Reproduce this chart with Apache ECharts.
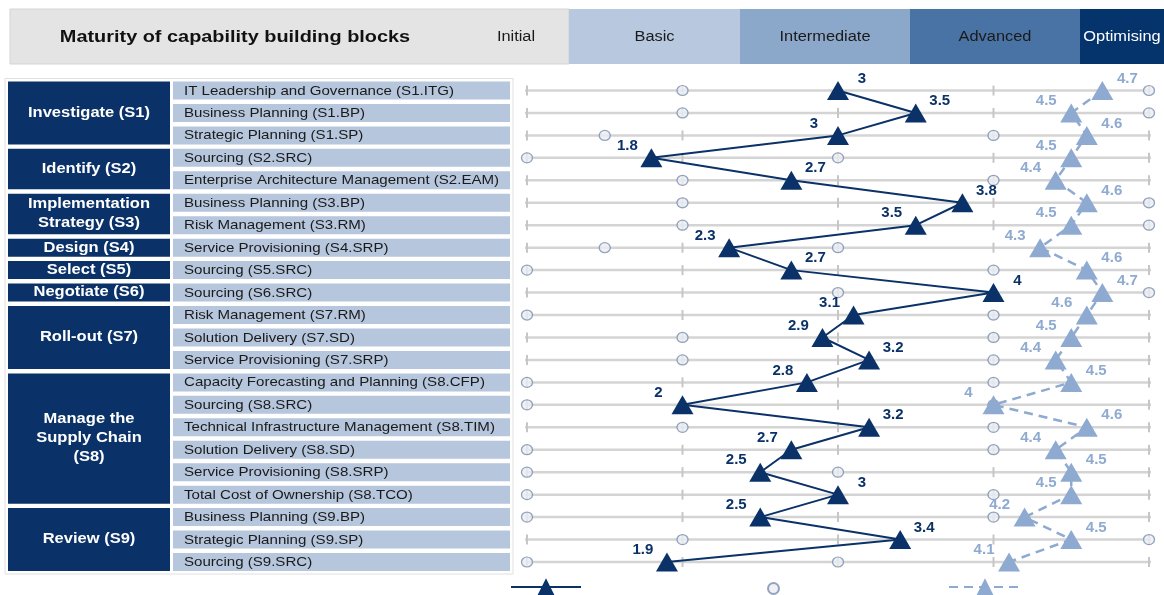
<!DOCTYPE html>
<html><head><meta charset="utf-8">
<script src="https://cdn.jsdelivr.net/npm/echarts@6/dist/echarts.min.js"></script>
<style>html,body{margin:0;padding:0;background:#fff}#c{width:1164px;height:595px}</style>
</head><body><div id="c"></div>
<script>
// ---------- data ----------
const levels = ['Initial', 'Basic', 'Intermediate', 'Advanced', 'Optimising'];
const groupNames = ['Investigate (S1)', 'Identify (S2)', 'Implementation\nStrategy (S3)', 'Design (S4)', 'Select (S5)', 'Negotiate (S6)', 'Roll-out (S7)', 'Manage the\nSupply Chain\n(S8)', 'Review (S9)'];
const groupSizes = [3, 2, 2, 1, 1, 1, 3, 6, 3];
const capabilities = [
  'IT Leadership and Governance (S1.ITG)',
  'Business Planning (S1.BP)',
  'Strategic Planning (S1.SP)',
  'Sourcing (S2.SRC)',
  'Enterprise Architecture Management (S2.EAM)',
  'Business Planning (S3.BP)',
  'Risk Management (S3.RM)',
  'Service Provisioning (S4.SRP)',
  'Sourcing (S5.SRC)',
  'Sourcing (S6.SRC)',
  'Risk Management (S7.RM)',
  'Solution Delivery (S7.SD)',
  'Service Provisioning (S7.SRP)',
  'Capacity Forecasting and Planning (S8.CFP)',
  'Sourcing (S8.SRC)',
  'Technical Infrastructure Management (S8.TIM)',
  'Solution Delivery (S8.SD)',
  'Service Provisioning (S8.SRP)',
  'Total Cost of Ownership (S8.TCO)',
  'Business Planning (S9.BP)',
  'Strategic Planning (S9.SP)',
  'Sourcing (S9.SRC)'
];
const currentMaturity = [3, 3.5, 3, 1.8, 2.7, 3.8, 3.5, 2.3, 2.7, 4, 3.1, 2.9, 3.2, 2.8, 2, 3.2, 2.7, 2.5, 3, 2.5, 3.4, 1.9];
const targetMaturity = [4.7, 4.5, 4.6, 4.5, 4.4, 4.6, 4.5, 4.3, 4.6, 4.7, 4.6, 4.5, 4.4, 4.5, 4, 4.6, 4.4, 4.5, 4.5, 4.2, 4.5, 4.1];
const rangeMin = [2, 2, 1.5, 1, 2, 2, 2, 1.5, 1, 3, 1, 2, 2, 1, 1, 2, 1, 1, 1, 1, 2, 1];
const rangeMax = [5, 5, 4, 3, 4, 5, 5, 3, 4, 5, 4, 4, 4, 4, 4, 4, 4, 3, 4, 4, 5, 3];
const scaleTicks = [1, 2, 3, 4, 5];
// label side (style): 1 = right, -1 = left
const currentLabelSide = [1, 1, -1, -1, 1, 1, -1, -1, 1, 1, -1, -1, 1, -1, -1, 1, -1, -1, 1, -1, 1, -1];
const targetLabelSide = [1, -1, 1, -1, -1, 1, -1, -1, 1, 1, -1, -1, -1, 1, -1, 1, -1, 1, -1, -1, 1, -1];

// ---------- styles ----------
const FONT = '"Liberation Sans", Arial, sans-serif';
const NAVY = '#0b3268';
const LIGHT = '#8eaad1';
const TOP = 90.5, H = 471.5;
const SX = 1.17; // horizontal text stretch

const groupStarts = [];
groupSizes.reduce((acc, n) => { groupStarts.push(acc); return acc + n; }, 0);

const chart = echarts.init(document.getElementById('c'));
const bandX = [569, 740, 910, 1080, 1164];
const bandColors = ['#b8c8de', '#8ba8ca', '#4a73a5', '#05336b'];
const bandText = ['#1a1a1a', '#1a1a1a', '#1a1a1a', '#ffffff'];
const graphics = [
  { type: 'rect', shape: { x: 5, y: 78.5, width: 508, height: 495.5 }, style: { fill: 'none', stroke: '#e0e0e0', lineWidth: 1 }, z: -1 },
  { type: 'rect', shape: { x: 10, y: 9, width: 559, height: 55 }, style: { fill: '#e4e4e4', stroke: '#d4d4d4', lineWidth: 1 } },
  { type: 'text', x: 235, y: 37, scaleX: SX, style: { text: 'Maturity of capability building blocks', font: 'bold 17px ' + FONT, fill: '#111', align: 'center', verticalAlign: 'middle' } },
  { type: 'text', x: 516, y: 37, scaleX: SX, style: { text: levels[0], font: '14px ' + FONT, fill: '#1a1a1a', align: 'center', verticalAlign: 'middle' } }
];
for (let k = 0; k < 4; k++) {
  graphics.push({ type: 'rect', shape: { x: bandX[k], y: 9, width: bandX[k + 1] - bandX[k], height: 55 }, style: { fill: bandColors[k] } });
  const cx = k === 3 ? 1122 : (bandX[k] + bandX[k + 1]) / 2;
  graphics.push({ type: 'text', x: cx, y: 37, scaleX: SX, style: { text: levels[k + 1], font: '14px ' + FONT, fill: bandText[k], align: 'center', verticalAlign: 'middle' } });
}

const option = {
  animation: false,
  grid: [
    { left: 8, top: TOP, width: 502, height: H },
    { left: 527, top: TOP, width: 622, height: H }
  ],
  xAxis: [
    { gridIndex: 0, type: 'value', min: 0, max: 502, show: false },
    { gridIndex: 1, type: 'value', min: 1, max: 5, interval: 1, show: false }
  ],
  yAxis: [
    { gridIndex: 0, type: 'category', data: capabilities, inverse: true, boundaryGap: false, show: false },
    { gridIndex: 1, type: 'category', data: capabilities, inverse: true, boundaryGap: false, show: false }
  ],
  legend: [
    { data: ['Current maturity'], left: 510, top: 576, padding: 0, itemWidth: 70, itemHeight: 22, formatter: () => '', selectedMode: false },
    { data: ['Range (min / max)'], left: 767, top: 582, padding: 0, itemWidth: 11, itemHeight: 11, formatter: () => '', selectedMode: false },
    { data: ['Target maturity'], left: 948, top: 576, padding: 0, itemWidth: 72, itemHeight: 22, formatter: () => '', selectedMode: false }
  ],
  graphic: graphics,
  series: [
    {
      type: 'custom', xAxisIndex: 0, yAxisIndex: 0, silent: true, clip: false,
      data: capabilities.map((c, i) => [165, i]),
      renderItem(params, api) {
        const i = api.value(1);
        const p0 = api.coord([165, i]);
        const p1 = api.coord([502, i]);
        const h = 18;
        return { type: 'group', children: [
          { type: 'rect', shape: { x: p0[0], y: p0[1] - h / 2, width: p1[0] - p0[0], height: h }, style: { fill: '#b6c6dc' } },
          { type: 'text', x: p0[0] + 11, y: p0[1] + 0.5, scaleX: 1.16, style: { text: capabilities[i], font: '13px ' + FONT, fill: '#1a1a1a', align: 'left', verticalAlign: 'middle' } }
        ] };
      }
    },
    {
      type: 'custom', xAxisIndex: 0, yAxisIndex: 0, silent: true, clip: false,
      data: groupSizes.map((n, g) => [0, groupStarts[g], groupStarts[g] + n - 1]),
      renderItem(params, api) {
        const g = params.dataIndex;
        const a = api.coord([0, api.value(1)]);
        const b = api.coord([162, api.value(2)]);
        const top = a[1] - 9, bottom = b[1] + 9;
        return { type: 'group', children: [
          { type: 'rect', shape: { x: a[0], y: top, width: b[0] - a[0], height: bottom - top }, style: { fill: NAVY } },
          { type: 'text', x: (a[0] + b[0]) / 2, y: (top + bottom) / 2, scaleX: 1.18, style: { text: groupNames[g], font: 'bold 14px ' + FONT, lineHeight: 19, fill: '#ffffff', align: 'center', verticalAlign: 'middle' } }
        ] };
      }
    },
    {
      type: 'custom', xAxisIndex: 1, yAxisIndex: 1, silent: true, clip: false, z: 1,
      data: capabilities.map((c, i) => [scaleTicks[0], i]),
      renderItem(params, api) {
        const i = api.value(1);
        const a = api.coord([scaleTicks[0], i]);
        const b = api.coord([scaleTicks[scaleTicks.length - 1], i]);
        const children = [{ type: 'line', shape: { x1: a[0] - 2, y1: a[1], x2: b[0] + 2, y2: b[1] }, style: { stroke: '#d4d4d4', lineWidth: 2.5 } }];
        scaleTicks.forEach(t => {
          const p = api.coord([t, i]);
          children.push({ type: 'line', shape: { x1: p[0], y1: p[1] - 5, x2: p[0], y2: p[1] + 5 }, style: { stroke: '#c6c6c6', lineWidth: 2 } });
        });
        return { type: 'group', children };
      }
    },
    {
      type: 'scatter', name: 'Range (min / max)', xAxisIndex: 1, yAxisIndex: 1, z: 3,
      data: rangeMin.map((v, i) => [v, i]),
      symbol: 'circle', symbolSize: [11, 10],
      itemStyle: { color: '#eceef2', borderColor: '#7b8fb0', borderWidth: 1.3 }
    },
    {
      type: 'scatter', name: 'Range (min / max)', xAxisIndex: 1, yAxisIndex: 1, z: 3,
      data: rangeMax.map((v, i) => [v, i]),
      symbol: 'circle', symbolSize: [11, 10],
      itemStyle: { color: '#eceef2', borderColor: '#7b8fb0', borderWidth: 1.3 }
    },
    {
      type: 'line', name: 'Target maturity', xAxisIndex: 1, yAxisIndex: 1, z: 4,
      showAllSymbol: true, symbol: 'triangle', symbolSize: [22, 19],
      data: targetMaturity.map((v, i) => ({ value: [v, i], label: { offset: [targetLabelSide[i] * 25, -12] } })),
      lineStyle: { color: LIGHT, width: 2.5, type: [9, 6] },
      itemStyle: { color: LIGHT },
      label: { show: true, position: 'inside', formatter: p => String(p.value[0]), color: LIGHT, fontWeight: 'bold', fontSize: 15, fontFamily: FONT }
    },
    {
      type: 'line', name: 'Current maturity', xAxisIndex: 1, yAxisIndex: 1, z: 5,
      showAllSymbol: true, symbol: 'triangle', symbolSize: [22, 19],
      data: currentMaturity.map((v, i) => ({ value: [v, i], label: { offset: [currentLabelSide[i] * 24, -12] } })),
      lineStyle: { color: NAVY, width: 2 },
      itemStyle: { color: NAVY },
      label: { show: true, position: 'inside', formatter: p => String(p.value[0]), color: NAVY, fontWeight: 'bold', fontSize: 15, fontFamily: FONT }
    }
  ]
};
chart.setOption(option);
</script>
</body></html>
